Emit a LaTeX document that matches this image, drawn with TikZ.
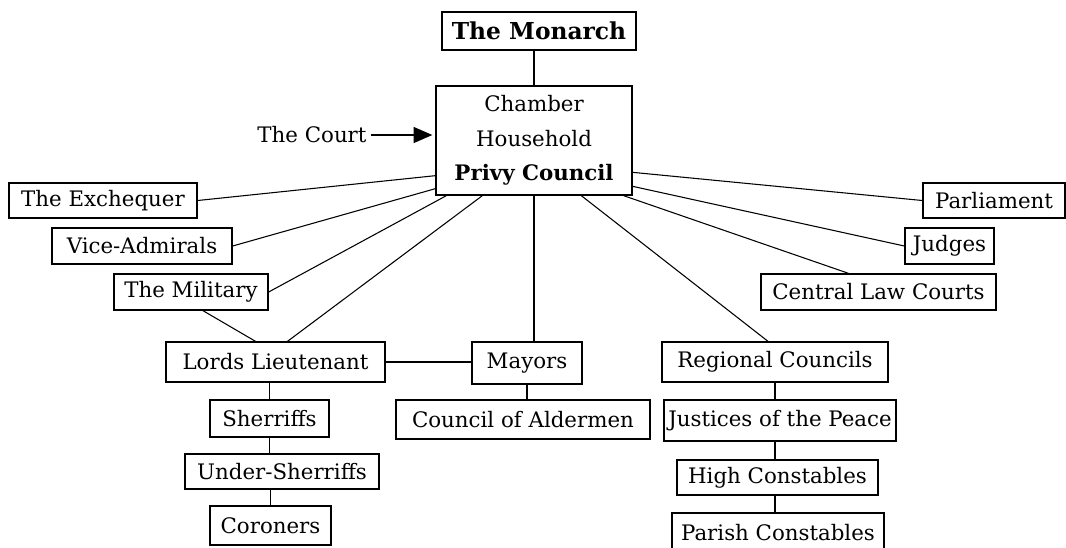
\documentclass[tikz,border=0pt]{standalone}
\usepackage{fontspec}
\setmainfont{DejaVu Serif}
\usetikzlibrary{calc,arrows.meta}

\begin{document}
\begin{tikzpicture}[x=0.75pt, y=-0.75pt,
    box/.style={draw, line width=1pt, inner sep=0pt, font=\fontsize{16}{18}\selectfont},
    boxsize/.style 2 args={minimum width=#1*0.75pt, minimum height=#2*0.75pt},
    link/.style={line width=0.8pt}]
    \useasboundingbox (0,0) rectangle (1066,547);
    \clip (0,0) rectangle (1066,547);

    % Top of the hierarchy
    \node[box, boxsize={194}{38}, font=\fontsize{17.5}{19}\selectfont\bfseries] (monarch) at (539,31) {The Monarch};
    \node[box, boxsize={196}{109}, align=center, font=\fontsize{16}{26}\selectfont] (council) at (534,140.5)
        {Chamber\\Household\\\textbf{Privy Council}};
    \node[font=\fontsize{16}{18}\selectfont] (court) at (312,135) {The Court};

    % Left branch
    \node[box, boxsize={188}{35}] (exchequer) at (103,200.5) {The Exchequer};
    \node[box, boxsize={180}{36}] (viceadm) at (142,246) {Vice-Admirals};
    \node[box, boxsize={154}{36}] (military) at (191,292) {The Military};
    \node[box, boxsize={219}{40}] (lords) at (275.5,362) {Lords Lieutenant};
    \node[box, boxsize={119}{37}] (sherriffs) at (269.5,418.5) {Sherriffs};
    \node[box, boxsize={194}{35}] (undersherriffs) at (282,471.5) {Under-Sherriffs};
    \node[box, boxsize={121}{39}] (coroners) at (270.5,525.5) {Coroners};

    % Middle branch
    \node[box, boxsize={110}{42}] (mayors) at (527,363) {Mayors};
    \node[box, boxsize={254}{39}] (aldermen) at (523,419.5) {Council of Aldermen};

    % Right branch
    \node[box, boxsize={142}{35}] (parliament) at (994,200.5) {Parliament};
    \node[box, boxsize={89}{36}] (judges) at (949.5,246) {Judges};
    \node[box, boxsize={235}{36}] (lawcourts) at (878.5,292) {Central Law Courts};
    \node[box, boxsize={226}{40}] (regional) at (775,362) {Regional Councils};
    \node[box, boxsize={232}{41}] (justices) at (780,420.5) {Justices of the Peace};
    \node[box, boxsize={201}{35}] (highconst) at (777.5,477.5) {High Constables};
    \node[box, boxsize={212}{40}] (parishconst) at (778,533) {Parish Constables};

    % Connectors
    \draw[link] (council.north) -- (council.north |- monarch.south);
    \draw[link, -{Triangle[length=14pt, width=12pt]}] (court.east) -- ($(court.east -| council.west)+(-3,0)$);
    \draw[link] (exchequer.east) -- ($(council.south west)+(0,-20)$);
    \draw[link] (viceadm.east) -- ($(council.south west)+(0,-7)$);
    \draw[link] (military.east) -- ($(council.south west)+(11,0)$);
    \draw[link] ($(military.south)+(12,0)$) -- ($(lords.north)+(-20,0)$);
    \draw[link] ($(lords.north)+(12,0)$) -- ($(council.south west)+(47,0)$);
    \draw[link] (lords.east) -- (lords.east -| mayors.west);
    \draw[link] (council.south) -- (council.south |- mayors.north);
    \draw[link] (mayors.south) -- (mayors.south |- aldermen.north);
    \draw[link] (sherriffs.north) -- (sherriffs.north |- lords.south);
    \draw[link] (sherriffs.south) -- (sherriffs.south |- undersherriffs.north);
    \draw[link] (coroners.north) -- (coroners.north |- undersherriffs.south);
    \draw[link] (parliament.west) -- ($(council.north east)+(0,87)$);
    \draw[link] (judges.west) -- ($(council.north east)+(0,101)$);
    \draw[link] ($(lawcourts.north)+(-30,0)$) -- ($(council.south east)+(-9,0)$);
    \draw[link] ($(regional.north)+(-7,0)$) -- ($(council.south west)+(146,0)$);
    \draw[link] (regional.south) -- (regional.south |- justices.north);
    \draw[link] (regional.south |- justices.south) -- (regional.south |- highconst.north);
    \draw[link] (regional.south |- highconst.south) -- (regional.south |- parishconst.north);
\end{tikzpicture}
\end{document}
